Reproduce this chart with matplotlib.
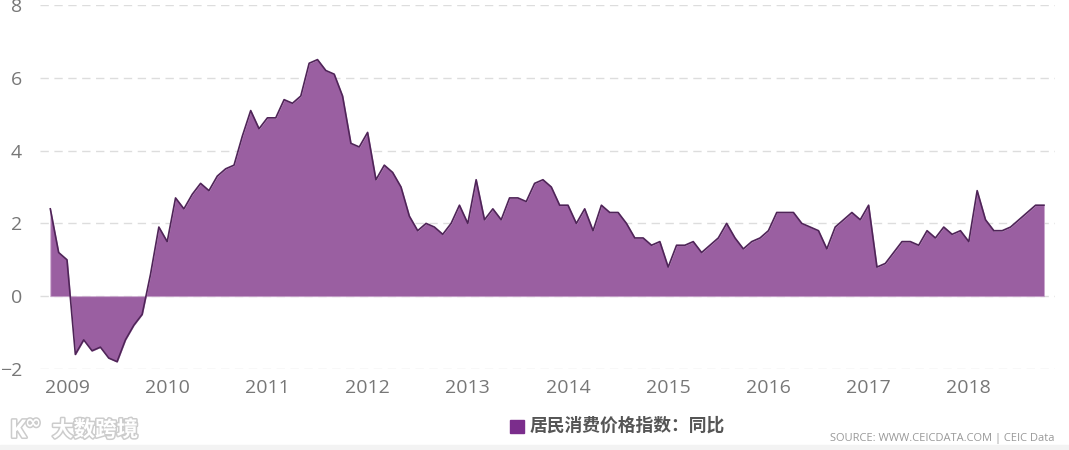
import matplotlib
matplotlib.use("Agg")
import matplotlib.pyplot as plt
import matplotlib.patheffects as pe
import numpy as np

plt.rcParams['font.family'] = ['Open Sans', 'Noto Sans CJK SC', 'DejaVu Sans']

# Monthly CPI YoY, Nov 2008 .. Oct 2018
start_year, start_month = 2008, 11
cpi_yoy = [
    2.4, 1.2,                                                   # 2008 Nov-Dec
    1.0, -1.6, -1.2, -1.5, -1.4, -1.7, -1.8, -1.2, -0.8, -0.5, 0.6, 1.9,   # 2009
    1.5, 2.7, 2.4, 2.8, 3.1, 2.9, 3.3, 3.5, 3.6, 4.4, 5.1, 4.6,           # 2010
    4.9, 4.9, 5.4, 5.3, 5.5, 6.4, 6.5, 6.2, 6.1, 5.5, 4.2, 4.1,           # 2011
    4.5, 3.2, 3.6, 3.4, 3.0, 2.2, 1.8, 2.0, 1.9, 1.7, 2.0, 2.5,           # 2012
    2.0, 3.2, 2.1, 2.4, 2.1, 2.7, 2.7, 2.6, 3.1, 3.2, 3.0, 2.5,           # 2013
    2.5, 2.0, 2.4, 1.8, 2.5, 2.3, 2.3, 2.0, 1.6, 1.6, 1.4, 1.5,           # 2014
    0.8, 1.4, 1.4, 1.5, 1.2, 1.4, 1.6, 2.0, 1.6, 1.3, 1.5, 1.6,           # 2015
    1.8, 2.3, 2.3, 2.3, 2.0, 1.9, 1.8, 1.3, 1.9, 2.1, 2.3, 2.1,           # 2016
    2.5, 0.8, 0.9, 1.2, 1.5, 1.5, 1.4, 1.8, 1.6, 1.9, 1.7, 1.8,           # 2017
    1.5, 2.9, 2.1, 1.8, 1.8, 1.9, 2.1, 2.3, 2.5, 2.5,                     # 2018 Jan-Oct
]
year_ticks = list(range(2009, 2019))
y_ticks = [-2, 0, 2, 4, 6, 8]
series_label = "居民消费价格指数：同比"
source_text = "SOURCE: WWW.CEICDATA.COM | CEIC Data"
watermark = "大数跨境"

x = np.array([start_year + (start_month - 1 + i) / 12.0 for i in range(len(cpi_yoy))])
y = np.array(cpi_yoy)

W, H = 1069, 450
fig = plt.figure(figsize=(W / 100, H / 100), dpi=100)
fig.patch.set_facecolor('white')
ax = fig.add_axes([40 / W, 1 - 369 / H, (1055 - 40) / W, (369 - 5) / H])
ax.set_facecolor('white')
ax.set_axisbelow(True)

ax.fill_between(x, 0, y, color='#9a5fa1', edgecolor='#c9a6cc', linewidth=0.6, zorder=2)
ax.plot(x, y, color='#4f2458', linewidth=1.2, zorder=3)

ax.set_ylim(-2, 8)
ax.set_xlim(2009 - 27 / 100.2, 2009 + 988 / 100.2)
ax.set_yticks(y_ticks)
ax.set_xticks(year_ticks)
ax.set_xticklabels([str(t) for t in year_ticks])
ax.yaxis.grid(True, color='#dddddd', linestyle=(0, (6, 4)), linewidth=1, zorder=0)
ax.xaxis.grid(False)
for s in ax.spines.values():
    s.set_visible(False)
ax.tick_params(axis='both', length=0, labelsize=14, labelcolor='#777777')
ax.tick_params(axis='y', pad=13)
ax.tick_params(axis='x', pad=7)
for lbl in ax.get_yticklabels():
    lbl.set_horizontalalignment('right')

# legend
fig.patches.append(plt.Rectangle((510 / W, 1 - 433 / H), 14 / W, 13 / H,
                                 transform=fig.transFigure, color='#7b2d8c'))
fig.text(530 / W, 1 - 426 / H, series_label, fontsize=12.8, fontweight='bold',
         color='#555555', va='center', ha='left',
         family=['Noto Sans CJK SC', 'DejaVu Sans'])

fig.text(1055 / W, 1 - 438 / H, source_text, fontsize=8, color='#999999',
         va='center', ha='right')

# watermark
stroke = [pe.withStroke(linewidth=2.2, foreground='#cccccc')]
fig.text(52 / W, 1 - 430 / H, watermark, fontsize=15.5, fontweight='bold', color='white',
         va='center', ha='left', family=['Noto Sans CJK SC'], path_effects=stroke)
fig.text(10 / W, 1 - 431 / H, "K", fontsize=18, fontweight='bold', color='white',
         va='center', ha='left', path_effects=stroke)
fig.text(25 / W, 1 - 423 / H, "∞", fontsize=14, fontweight='bold', color='white',
         va='center', ha='left', family=['DejaVu Sans'], path_effects=stroke)

# light bottom band
fig.patches.append(plt.Rectangle((0, 0), 1, 5 / H, transform=fig.transFigure,
                                 color='#f3f3f3'))

fig.savefig('out.png', dpi=100, facecolor='white')
